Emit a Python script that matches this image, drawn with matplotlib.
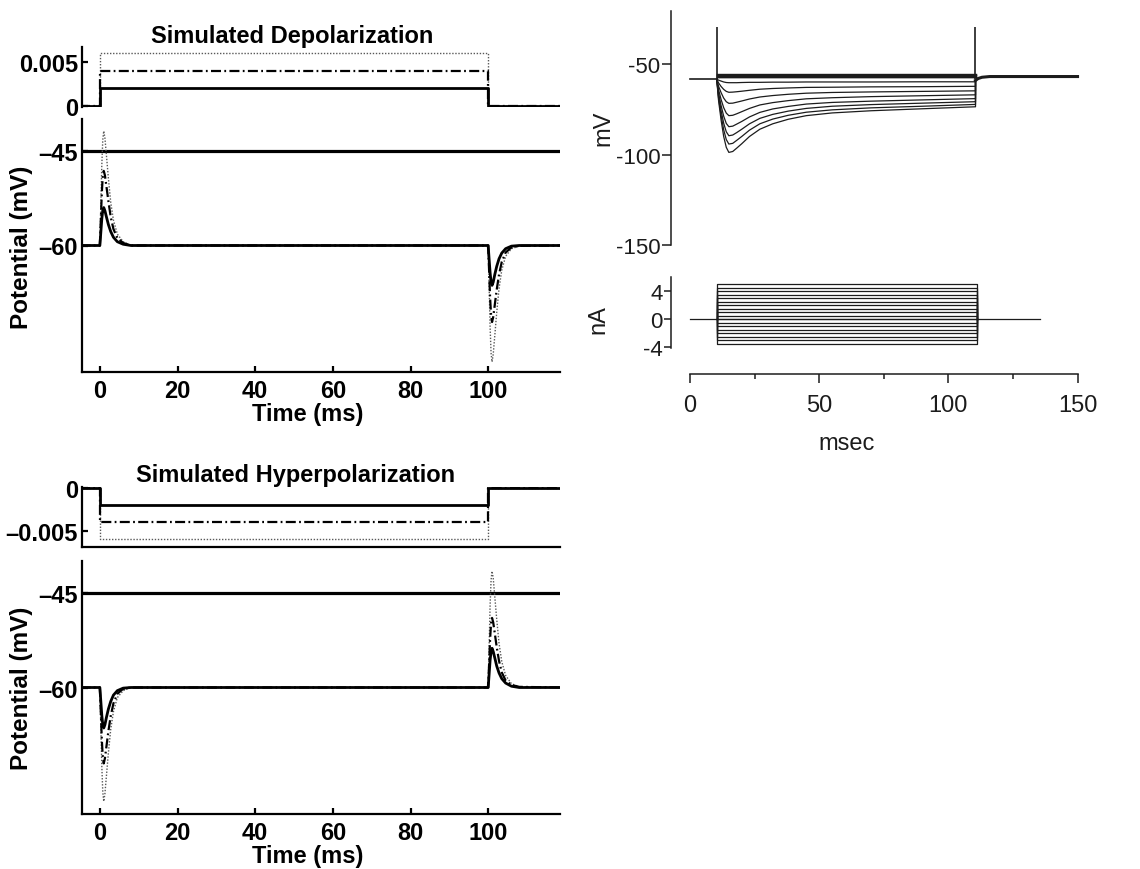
import numpy as np
import matplotlib
matplotlib.use("Agg")
import matplotlib.pyplot as plt
from matplotlib.ticker import FuncFormatter

plt.rcParams['font.family'] = ['Liberation Sans', 'DejaVu Sans']
plt.rcParams['axes.unicode_minus'] = False

# ---- left: simulated stimulus (current) ----
stim_t = [-5, 0, 0, 100, 100, 119]
stim_amp = [0.002, 0.004, 0.006]          # solid, dash-dot, dotted

# ---- left: simulated potentials (mV) ----
v_t = [-5, 0, 0.25, 0.5, 0.75, 1.0, 1.3, 1.7, 2.2, 2.8, 3.5, 4.5, 6, 8,
       100, 100.25, 100.5, 100.75, 101, 101.3, 101.7, 102.2, 102.8, 103.5, 104.5, 106, 108, 119]
dep_solid = [-60, -60, -57.9, -55.8, -54.4, -54.0, -54.5, -55.5, -56.7, -57.8, -58.7, -59.4, -59.8, -60,
             -60, -62.2, -64.3, -65.8, -66.3, -65.8, -64.6, -63.3, -62.1, -61.2, -60.5, -60.1, -60, -60]
dep_dashdot = [-60, -60, -55.9, -51.7, -49.0, -48.2, -48.9, -50.7, -53.0, -55.5, -57.4, -58.8, -59.6, -60,
               -60, -64.1, -68.3, -71.0, -72.1, -71.3, -69.4, -67.0, -64.6, -62.6, -61.1, -60.3, -60.05, -60]
dep_dotted = [-60, -60, -53.7, -47.3, -43.3, -41.9, -43.0, -45.8, -49.4, -53.2, -56.0, -58.2, -59.4, -60,
              -60, -66.4, -72.9, -77.0, -78.4, -77.2, -74.3, -70.6, -66.8, -63.9, -61.7, -60.5, -60.1, -60]
hyp_solid = [-60, -60, -62.2, -64.4, -65.9, -66.4, -65.9, -64.7, -63.4, -62.2, -61.2, -60.5, -60.1, -60,
             -60, -57.9, -55.7, -54.3, -53.8, -54.3, -55.3, -56.6, -57.7, -58.6, -59.3, -59.8, -60, -60]
hyp_dashdot = [-60, -60, -64.0, -68.2, -71.0, -72.0, -71.2, -69.3, -66.9, -64.5, -62.5, -61.0, -60.2, -60,
               -60, -56.2, -52.3, -49.8, -49.0, -49.7, -51.4, -53.6, -55.8, -57.6, -58.9, -59.6, -59.9, -60]
hyp_dotted = [-60, -60, -66.1, -72.4, -76.5, -78.0, -76.8, -73.9, -70.3, -66.6, -63.8, -61.6, -60.5, -60,
              -60, -53.5, -47.0, -43.0, -41.6, -42.7, -45.6, -49.2, -53.0, -55.9, -58.1, -59.4, -59.9, -60]
threshold = -45

# ---- right: recorded traces (mV) ----
pre_t = [0, 10.3]
pre_v = [-58.3, -58.3]
post_t = [110.5, 111.5, 113, 116, 150]
post_v = [-59.0, -58.0, -57.3, -56.9, -56.9]
sag_t = [10.3, 11, 12, 13, 14, 15, 16.5, 18, 20, 23, 27, 32, 38, 45, 55, 70, 90, 110.5]
hyper_traces = [
    [-58.3, -58.9, -59.4, -59.9, -60.2, -60.3, -60.3, -60.3, -60.2, -60.1, -60.1, -60.0, -60.0, -59.9, -59.9, -59.9, -59.8, -59.8],
    [-58.3, -60.4, -62.4, -64.0, -65.1, -65.6, -65.5, -65.3, -65.0, -64.5, -63.9, -63.5, -63.2, -62.9, -62.8, -62.6, -62.5, -62.3],
    [-58.3, -62.2, -65.8, -68.8, -70.8, -71.7, -71.6, -71.1, -70.4, -69.3, -68.2, -67.4, -66.7, -66.1, -65.7, -65.4, -65.1, -64.8],
    [-58.3, -64.1, -69.6, -74.1, -77.1, -78.5, -78.3, -77.5, -76.3, -74.5, -72.6, -71.3, -70.2, -69.2, -68.6, -68.0, -67.5, -67.0],
    [-58.3, -65.9, -73.0, -78.8, -82.8, -84.6, -84.3, -83.2, -81.7, -79.2, -76.7, -74.8, -73.4, -72.1, -71.2, -70.5, -69.8, -69.1],
    [-58.3, -67.4, -75.8, -82.7, -87.4, -89.6, -89.2, -87.9, -86.0, -83.0, -80.0, -77.8, -76.0, -74.5, -73.3, -72.4, -71.6, -70.8],
    [-58.3, -68.7, -78.4, -86.3, -91.7, -94.2, -93.8, -92.2, -90.0, -86.5, -83.0, -80.4, -78.3, -76.6, -75.3, -74.2, -73.3, -72.3],
    [-58.3, -70.0, -81.0, -90.0, -96.0, -98.8, -98.3, -96.5, -94.0, -90.0, -86.0, -83.0, -80.5, -78.5, -77.0, -75.8, -74.7, -73.6],
]
dep_levels = [-55.4, -55.8, -56.2, -56.6, -57.0, -57.4]
spike_t = [10.3, 110.3]
spike_peak = -29.5

# ---- right: injected currents (nA) ----
i_base_t = [0, 135.5]
i_step_t = [10.3, 10.3, 110.9, 110.9]
i_levels = [-3.5, -3.0, -2.5, -2.0, -1.5, -1.0, -0.5, 0.0, 0.5, 1.0, 1.5, 2.0,
            2.5, 3.0, 3.5, 4.0, 4.5, 5.0]

W, H = 1140, 870
fig = plt.figure(figsize=(W / 100, H / 100), dpi=100)


def add_px(l, t, r, b):
    return fig.add_axes([l / W, 1 - b / H, (r - l) / W, (b - t) / H])


dash = lambda v, p: ('%g' % v).replace('-', '\u2013')
FS = 17
BOLD = dict(fontsize=FS, fontweight='bold')
styles = [dict(color='0.35', lw=1.0, ls=(0, (1, 1.2))),
          dict(color='k', lw=1.6, ls=(0, (4.5, 1.5, 0.8, 1.5))),
          dict(color='k', lw=2.0, ls='-')]


def stim_axes(top, bottom, ylim, sign, show_bottom):
    ax = add_px(82, top, 560, bottom)
    for amp, st in zip(stim_amp[::-1], styles):
        ax.plot(stim_t, [0, 0, sign * amp, sign * amp, 0, 0], **st)
    ax.set_xlim(-4.6, 118.5)
    ax.set_ylim(*ylim)
    ax.set_yticks([0, sign * 0.005])
    ax.yaxis.set_major_formatter(FuncFormatter(dash))
    ax.set_xticks([])
    for s in ['top', 'right']:
        ax.spines[s].set_visible(False)
    ax.spines['bottom'].set_visible(show_bottom)
    for s in ax.spines.values():
        s.set_linewidth(1.6)
    ax.tick_params(direction='in', length=4, width=1.6, pad=3, labelsize=FS)
    for lb in ax.get_yticklabels():
        lb.set_fontweight('bold')
    return ax


def pot_axes(top, bottom, traces):
    ax = add_px(82, top, 560, bottom)
    ax.axhline(threshold, color='k', lw=2.3)
    for tr, st in zip(traces, styles):
        ax.plot(v_t, tr, **st)
    ax.set_xlim(-4.6, 118.5)
    ax.set_ylim(-80, -40)
    ax.set_yticks([-60, -45])
    ax.set_xticks([0, 20, 40, 60, 80, 100])
    ax.yaxis.set_major_formatter(FuncFormatter(dash))
    for s in ['top', 'right']:
        ax.spines[s].set_visible(False)
    for s in ax.spines.values():
        s.set_linewidth(1.6)
    ax.tick_params(direction='in', length=4, width=1.6, pad=3, labelsize=FS)
    ax.tick_params(axis='x', pad=5)
    for lb in ax.get_yticklabels() + ax.get_xticklabels():
        lb.set_fontweight('bold')
    return ax


stim_axes(48, 108, (-0.0001, 0.0067), 1, False)
pot_axes(120, 373, [dep_dotted, dep_dashdot, dep_solid])
fig.text(292 / W, 1 - 37 / H, 'Simulated Depolarization', ha='center', va='center', **BOLD)
fig.text(22 / W, 1 - 247 / H, 'Potential (mV)', rotation=90, ha='center', va='center',
         fontsize=17.5, fontweight='bold')
fig.text(308 / W, 1 - 415 / H, 'Time (ms)', ha='center', va='center', **BOLD)

stim_axes(488, 548, (-0.0069, 0.0001), -1, True)
pot_axes(562, 815, [hyp_dotted, hyp_dashdot, hyp_solid])
fig.text(296 / W, 1 - 476 / H, 'Simulated Hyperpolarization', ha='center', va='center', **BOLD)
fig.text(22 / W, 1 - 688 / H, 'Potential (mV)', rotation=90, ha='center', va='center',
         fontsize=17.5, fontweight='bold')
fig.text(308 / W, 1 - 857 / H, 'Time (ms)', ha='center', va='center', **BOLD)

# ---- right panel (scanned-style figure) ----
INK = '#1c1c1c'
XL = (-7.4, 158.7)
RFS = 16

ax = add_px(671, 12, 1100, 247)
ax.plot(pre_t, pre_v, color=INK, lw=1.2)
ax.plot(post_t, post_v, color=INK, lw=2.2)
for tr in hyper_traces:
    ax.plot(sag_t + post_t[:2], tr + post_v[:2], color=INK, lw=0.9)
for lev in dep_levels:
    ax.plot([sag_t[0], sag_t[-1]], [lev, lev], color=INK, lw=1.0)
ax.vlines(spike_t, pre_v[0], spike_peak, color=INK, lw=1.2)
ax.set_xlim(*XL)
ax.set_ylim(-150.5, -20.7)
ax.set_yticks([-50, -100, -150])
ax.set_xticks([])
for s in ['top', 'right', 'bottom']:
    ax.spines[s].set_visible(False)
ax.spines['left'].set_bounds(-150, -20.7)
ax.spines['left'].set_color(INK)
ax.spines['left'].set_linewidth(1.1)
ax.tick_params(direction='out', length=6.5, width=1.1, pad=1, labelsize=RFS, colors=INK)
fig.text(603 / W, 1 - 128 / H, 'mV', rotation=90, ha='center', va='center', fontsize=17, color=INK)

ax = add_px(671, 278, 1100, 349)
ax.plot(i_base_t, [0, 0], color=INK, lw=0.9)
for lev in i_levels:
    ax.plot(i_step_t, [0, lev, lev, 0], color=INK, lw=0.9)
ax.set_xlim(*XL)
ax.set_ylim(-4.1, 6.0)
ax.set_yticks([-4, 0, 4])
ax.set_xticks([])
for s in ['top', 'right', 'bottom']:
    ax.spines[s].set_visible(False)
ax.spines['left'].set_color(INK)
ax.spines['left'].set_linewidth(1.1)
ax.tick_params(direction='out', length=5, width=1.1, pad=1, labelsize=RFS, colors=INK)
fig.text(598 / W, 1 - 320 / H, 'nA', rotation=90, ha='center', va='center', fontsize=17, color=INK)

ax = add_px(671, 340, 1100, 375)
ax.patch.set_visible(False)
ax.set_xlim(*XL)
ax.set_yticks([])
for s in ['top', 'right', 'left']:
    ax.spines[s].set_visible(False)
ax.spines['bottom'].set_bounds(0, 150)
ax.spines['bottom'].set_color(INK)
ax.spines['bottom'].set_linewidth(1.1)
ax.set_xticks([0, 50, 100, 150])
ax.set_xticks([25, 75, 125], minor=True)
ax.tick_params(axis='x', which='major', direction='out', length=6.5, width=1.1, pad=8,
               labelsize=17, colors=INK)
ax.tick_params(axis='x', which='minor', direction='out', length=3.5, width=1.1, colors=INK)
fig.text(847 / W, 1 - 444 / H, 'msec', ha='center', va='center', fontsize=17, color=INK)

fig.savefig('out.png', dpi=100)
